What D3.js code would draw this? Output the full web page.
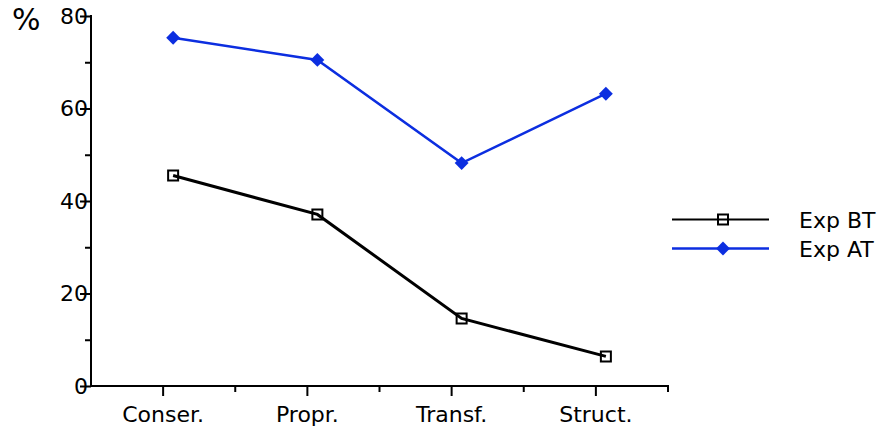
<!DOCTYPE html>
<html>
<head>
<meta charset="utf-8">
<script src="https://cdn.jsdelivr.net/npm/d3@7"></script>
<style>
  html, body { margin: 0; padding: 0; background: #fff; }
  svg { display: block; }
  text { font-family: "DejaVu Sans", "Verdana", sans-serif; }
</style>
</head>
<body>
<svg id="chart" width="883" height="431"></svg>
<script>
// Categories and series values (percent)
const categories = ["Conser.", "Propr.", "Transf.", "Struct."];
const expBT = [45.5, 37.1, 14.6, 6.4];
const expAT = [75.3, 70.5, 48.2, 63.2];
const yTicks = [0, 20, 40, 60, 80];
const yMinorTicks = [10, 30, 50, 70];
const seriesNames = ["Exp BT", "Exp AT"];

const svg = d3.select("#chart");
const FONT = "DejaVu Sans";
const plotLeft = 91, plotRight = 668, plotTop = 16, plotBottom = 386;
const blue = "#0c2ee0";

const x = d3.scaleBand().domain(categories).range([plotLeft, plotRight]);
const y = d3.scaleLinear().domain([0, 80]).range([plotBottom, plotTop]);
// data points sit a little right of the category tick
const markShift = 10;
const px = (d, i) => x(categories[i]) + x.bandwidth() / 2 + markShift;

// Y axis
const yAxis = d3.axisLeft(y).tickValues(yTicks).tickSize(11).tickFormat(d3.format("d"));
const gy = svg.append("g").attr("transform", `translate(${plotLeft},0)`).call(yAxis)
  .attr("font-family", FONT);
gy.select(".domain").remove();
gy.selectAll(".tick line").attr("stroke", "#000").attr("stroke-width", 2);
gy.selectAll(".tick text").attr("font-size", 22).attr("fill", "#000").attr("x", -3);
const gyMinor = svg.append("g").attr("transform", `translate(${plotLeft},0)`)
  .call(d3.axisLeft(y).tickValues(yMinorTicks).tickSize(6).tickFormat(""));
gyMinor.select(".domain").remove();
gyMinor.selectAll(".tick line").attr("stroke", "#000").attr("stroke-width", 2);
svg.append("line").attr("x1", plotLeft).attr("x2", plotLeft).attr("y1", y(80) - 1).attr("y2", plotBottom + 1)
  .attr("stroke", "#000").attr("stroke-width", 2);

// X axis: long ticks at categories, short ticks at band edges
const gx = svg.append("g").attr("transform", `translate(0,${plotBottom})`)
  .call(d3.axisBottom(x).tickSize(10).tickPadding(10)).attr("font-family", FONT);
gx.select(".domain").remove();
gx.selectAll(".tick line").attr("stroke", "#000").attr("stroke-width", 2);
gx.selectAll(".tick text").attr("font-size", 22).attr("fill", "#000");
const edges = categories.map(c => x(c)).concat([x.range()[1]]).slice(1);
svg.append("g").selectAll("line").data(edges).join("line")
  .attr("x1", d => d).attr("x2", d => d).attr("y1", plotBottom).attr("y2", plotBottom + 6)
  .attr("stroke", "#000").attr("stroke-width", 2);
svg.append("line").attr("x1", plotLeft - 1).attr("x2", plotRight + 1).attr("y1", plotBottom).attr("y2", plotBottom)
  .attr("stroke", "#000").attr("stroke-width", 2);

// Unit label
svg.append("text").attr("x", 12).attr("y", 30).attr("font-size", 30)
  .attr("font-family", FONT).text("%");

// Lines
const line = d3.line().x((d, i) => px(d, i)).y(d => y(d));
svg.append("path").datum(expBT).attr("d", line).attr("fill", "none")
  .attr("stroke", "#000").attr("stroke-width", 3);
svg.append("path").datum(expAT).attr("d", line).attr("fill", "none")
  .attr("stroke", blue).attr("stroke-width", 2.5);

// Markers: open square and filled diamond (square turned 45°)
const sq = d3.symbol().type(d3.symbolSquare).size(100);
const dm = d3.symbol().type(d3.symbolSquare).size(96);
svg.append("g").selectAll("path").data(expBT).join("path")
  .attr("d", sq).attr("transform", (d, i) => `translate(${px(d, i)},${y(d)})`)
  .attr("fill", "none").attr("stroke", "#000").attr("stroke-width", 2);
svg.append("g").selectAll("path").data(expAT).join("path")
  .attr("d", dm).attr("transform", (d, i) => `translate(${px(d, i)},${y(d)}) rotate(45)`)
  .attr("fill", blue);

// Legend
const legend = svg.append("g").attr("font-family", FONT);
const legY = [219.5, 248.5];
seriesNames.forEach((name, i) => {
  const col = i === 0 ? "#000" : blue;
  legend.append("line").attr("x1", 672).attr("x2", 769).attr("y1", legY[i]).attr("y2", legY[i])
    .attr("stroke", col).attr("stroke-width", i === 0 ? 2 : 2.5);
  const m = legend.append("path").attr("d", i === 0 ? sq : dm)
    .attr("transform", `translate(723,${legY[i]})` + (i === 0 ? "" : " rotate(45)"));
  if (i === 0) m.attr("fill", "none").attr("stroke", "#000").attr("stroke-width", 2);
  else m.attr("fill", blue);
  legend.append("text").attr("x", 799).attr("y", legY[i] + 8).attr("font-size", 22).text(name);
});
</script>
</body>
</html>
